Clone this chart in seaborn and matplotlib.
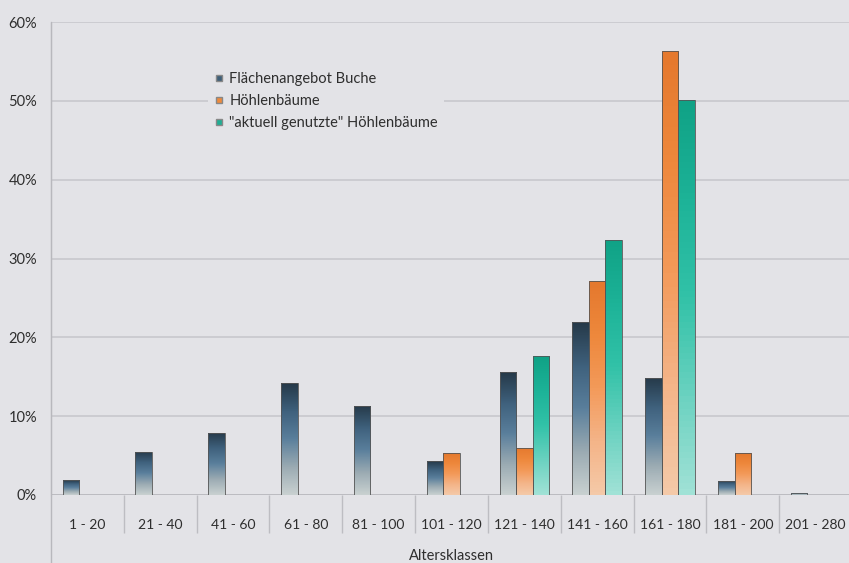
import numpy as np
import pandas as pd
import seaborn as sns
import matplotlib.pyplot as plt
from matplotlib.colors import LinearSegmentedColormap, to_rgba
from matplotlib.lines import Line2D
import matplotlib.transforms as mtrans

klassen = ['1 - 20', '21 - 40', '41 - 60', '61 - 80', '81 - 100', '101 - 120',
           '121 - 140', '141 - 160', '161 - 180', '181 - 200', '201 - 280']
flaeche = [1.9, 5.5, 7.9, 14.2, 11.3, 4.3, 15.6, 21.9, 14.9, 1.8, 0.3]
hoehlen = [None, None, None, None, None, 5.3, 6.0, 27.1, 56.3, 5.3, None]
genutzt = [None, None, None, None, None, None, 17.6, 32.4, 50.1, None, None]
serien = ['Flächenangebot Buche', 'Höhlenbäume', '"aktuell genutzte" Höhlenbäume']
farben = ['#3f5f78', '#ef8a3c', '#1fae94']
verlauf = [['#263a4a', '#3f617d', '#5a7f9c', '#9aaab2', '#c8d0d0'],
           ['#e5792e', '#ee883c', '#f39a5a', '#f4b488', '#f4c9a8'],
           ['#10a286', '#1db398', '#32c2a8', '#6ad2c0', '#a0e2d6']]

bg = '#e3e3e7'
grid = '#c6c6cb'
txt = '#2e2e2e'

rows = []
for s, werte in zip(serien, [flaeche, hoehlen, genutzt]):
    for k, v in zip(klassen, werte):
        if v is not None:
            rows.append({'klasse': k, 'serie': s, 'wert': v})
df = pd.DataFrame(rows)

sns.set_style('white')
plt.rcParams['font.family'] = ['Lato', 'DejaVu Sans']

fig = plt.figure(figsize=(8.49, 5.63), dpi=100, facecolor=bg)
ax = fig.add_axes([51 / 849, 68 / 563, 801 / 849, 473 / 563])
ax.set_facecolor(bg)

sns.barplot(data=df, x='klasse', y='wert', hue='serie', order=klassen,
            hue_order=serien, palette=farben, width=0.68, errorbar=None,
            edgecolor='#555555', linewidth=0.6, legend=False, ax=ax, zorder=3)

# vertical colour gradient inside each bar
for patch in list(ax.patches):
    h = patch.get_height()
    if h <= 0 or np.isnan(h):
        continue
    fc = np.array(patch.get_facecolor())
    idx = int(np.argmin([np.sum((np.array(to_rgba(c)) - fc) ** 2) for c in farben]))
    cmap = LinearSegmentedColormap.from_list('v', verlauf[idx])
    grad = np.linspace(0, 1, 64).reshape(-1, 1)
    x0 = patch.get_x()
    im = ax.imshow(grad, cmap=cmap, aspect='auto', origin='upper',
                   extent=[x0, x0 + patch.get_width(), 0, h], zorder=2.9)
    im.set_clip_path(patch)
    patch.set_facecolor('none')

ax.set_xlim(-0.5, len(klassen) - 0.5)
ax.set_ylim(0, 60)
ax.set_yticks(range(0, 61, 10))
ax.set_yticklabels([f'{v}%' for v in range(0, 61, 10)])
ax.yaxis.grid(True, color=grid, linewidth=1.1, zorder=0)
ax.set_axisbelow(True)

for sp in ['top', 'right', 'bottom']:
    ax.spines[sp].set_visible(False)
ax.spines['left'].set_color('#b8b8bd')

ax.tick_params(axis='y', length=3, color='#b8b8bd', labelsize=10.5, labelcolor=txt, pad=7)
ax.tick_params(axis='x', length=0, labelsize=10, labelcolor=txt, pad=17)
ax.set_xlabel('')
ax.set_ylabel('')

# cells under the x axis
trans = mtrans.blended_transform_factory(ax.transData, ax.transAxes)
ax.axhline(0, color='#b8b8bd', linewidth=1.1, zorder=2)
ax.vlines([i + 0.5 for i in range(len(klassen))], -0.08, 0, transform=trans,
          color='#bdbdc2', linewidth=1, clip_on=False)
ax.plot([0, 0], [-0.15, 1.0], transform=ax.transAxes, color='#b8b8bd',
        linewidth=1, clip_on=False)

fig.text(451 / 849, 1 - 556 / 563, 'Altersklassen', ha='center', va='center',
         fontsize=10.5, color=txt)

handles = [Line2D([], [], marker='s', linestyle='none', markersize=4.5,
                  markerfacecolor=c, markeredgecolor='#888') for c in farben]
leg = ax.legend(handles, serien, loc='upper left', bbox_to_anchor=(201 / 849, 1 - 59 / 563),
                bbox_transform=fig.transFigure, frameon=True, fontsize=10.5,
                handlelength=0.6, handletextpad=0.45, labelspacing=0.55,
                borderpad=0.4, fancybox=False)
leg.get_frame().set_facecolor(bg)
leg.get_frame().set_edgecolor('none')
leg.get_frame().set_alpha(1)
for t in leg.get_texts():
    t.set_color(txt)

fig.savefig('out.png', dpi=100, facecolor=bg)
